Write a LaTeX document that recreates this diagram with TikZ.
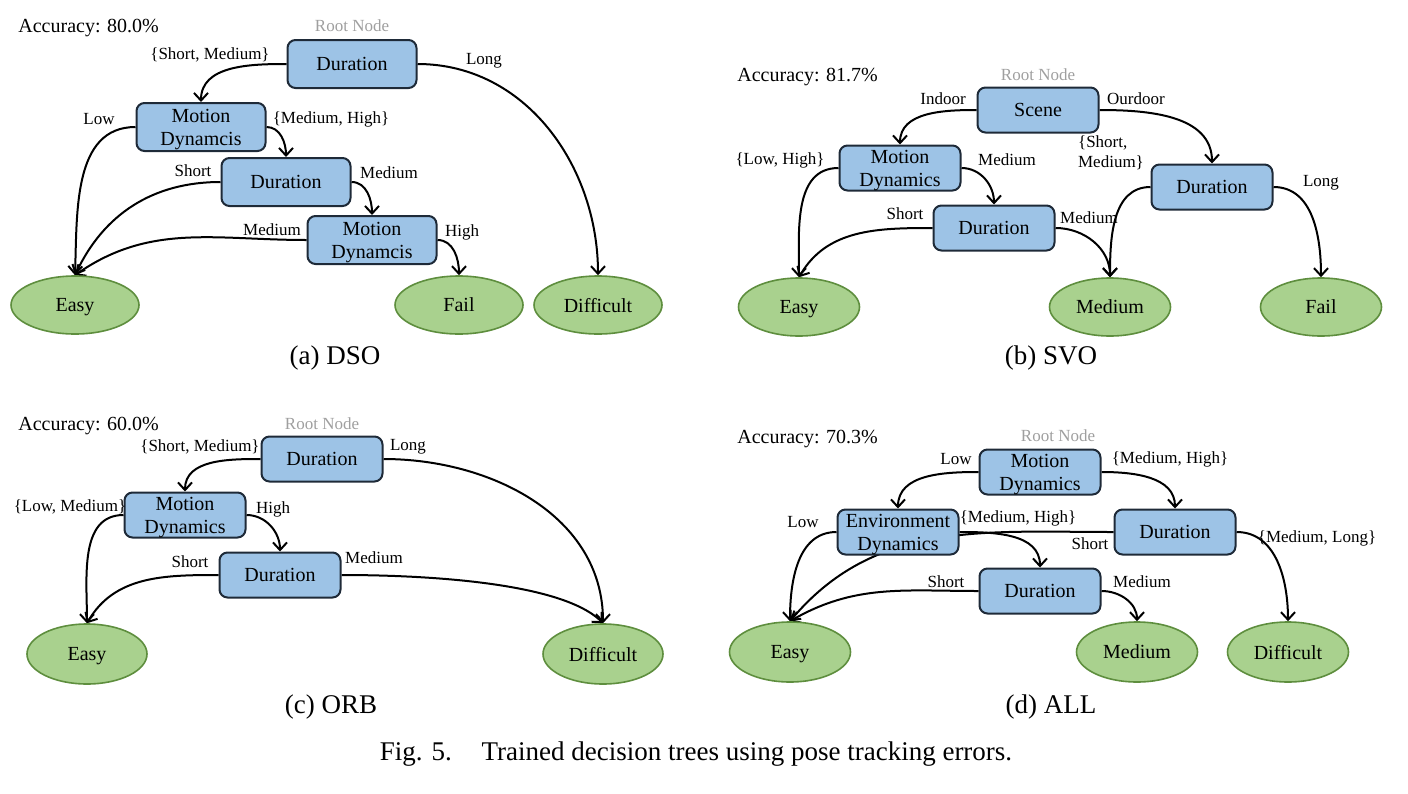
\documentclass[tikz,border=0pt]{standalone}
\usepackage{fontspec}
\setmainfont{Liberation Serif}
\usetikzlibrary{arrows.meta,shapes.geometric,backgrounds}

\definecolor{boxblue}{HTML}{9DC3E6}
\definecolor{boxline}{HTML}{1E2A38}
\definecolor{leafgreen}{HTML}{A9D18E}
\definecolor{leafline}{HTML}{5E8E3E}

\tikzset{
  splitbox/.style={draw=boxline, fill=boxblue, line width=1pt, rounded corners=4pt, align=center, inner sep=1pt,
    text depth=0pt, minimum width=60.5pt, minimum height=22.5pt, font=\fontsize{10}{11.5}\selectfont},
  leafnode/.style={ellipse, draw=leafline, fill=leafgreen, line width=0.8pt, inner sep=0pt, text depth=0pt,
    minimum width=60.5pt, minimum height=29pt, font=\fontsize{10}{12}\selectfont},
  cond/.style={font=\fontsize{8.5}{10}\selectfont, inner sep=0pt, align=left},
  rootlabel/.style={font=\fontsize{8.5}{10}\selectfont, text=gray!75, inner sep=0pt},
  acc/.style={font=\fontsize{10}{12}\selectfont, inner sep=0pt, anchor=west},
  subcap/.style={font=\fontsize{13.5}{16}\selectfont, inner sep=0pt},
  branch/.style={line width=1pt, -{Straight Barb[length=3.8pt,width=7pt,line width=1pt]}},
}

\begin{document}
\begin{tikzpicture}[x=0.5pt, y=-0.5pt]
  \useasboundingbox (0,0) rectangle (1408,793);

  % (a) DSO
  \begin{scope}[splitbox/.append style={minimum width=64.5pt, minimum height=24pt},
                leafnode/.append style={minimum width=64pt}]
    \node[acc] (accA) at (18,28) {Accuracy: 80.0\%};
    \node[rootlabel] (rootA) at (352,26) {Root Node};
    \node[splitbox] (a1) at (352,64) {Duration};
    \node[splitbox] (a2) at (201,127) {Motion\\Dynamcis};
    \node[splitbox] (a3) at (286,182) {Duration};
    \node[splitbox] (a4) at (372,240) {Motion\\Dynamcis};
    \node[leafnode] (aeasy) at (75,305) {Easy};
    \node[leafnode] (afail) at (459,305) {Fail};
    \node[leafnode] (adiff) at (598,305) {Difficult};
  \end{scope}
  \node[cond] (la1) at (210,55) {\{Short, Medium\}};
  \node[cond] (la2) at (484,61) {Long};
  \node[cond] (la3) at (99,119) {Low};
  \node[cond] (la4) at (331,119) {\{Medium, High\}};
  \node[cond] (la5) at (193,171) {Short};
  \node[cond] (la6) at (389,173) {Medium};
  \node[cond] (la7) at (272,230) {Medium};
  \node[cond] (la8) at (462,232) {High};
  \node[subcap] (capA) at (335,358) {(a) DSO};

  % (b) SVO
  \node[acc] (accB) at (737,77) {Accuracy: 81.7\%};
  \node[rootlabel] (rootB) at (1038,75) {Root Node};
  \node[splitbox] (b1) at (1038,110) {Scene};
  \node[splitbox] (b2) at (900,168) {Motion\\Dynamics};
  \node[splitbox] (b3) at (1212,187) {Duration};
  \node[splitbox] (b4) at (994,228) {Duration};
  \node[leafnode] (beasy) at (799,307) {Easy};
  \node[leafnode] (bmed) at (1110,307) {Medium};
  \node[leafnode] (bfail) at (1321,307) {Fail};
  \node[cond] (lb1) at (943,99) {Indoor};
  \node[cond] (lb2) at (1136,99) {Ourdoor};
  \node[cond] (lb3) at (780,160) {\{Low, High\}};
  \node[cond] (lb4) at (1007,160) {Medium};
  \node[cond] (lb5) at (1111,153) {\{Short,\\Medium\}};
  \node[cond] (lb6) at (1321,183) {Long};
  \node[cond] (lb7) at (905,214) {Short};
  \node[cond] (lb8) at (1089,218) {Medium};
  \node[subcap] (capB) at (1051,358) {(b) SVO};

  % (c) ORB
  \begin{scope}[leafnode/.append style={minimum width=60pt, minimum height=30pt}]
    \node[acc] (accC) at (18,426) {Accuracy: 60.0\%};
    \node[rootlabel] (rootC) at (322,424) {Root Node};
    \node[splitbox] (c1) at (322,459) {Duration};
    \node[splitbox] (c2) at (185,515) {Motion\\Dynamics};
    \node[splitbox] (c3) at (280,575) {Duration};
    \node[leafnode] (ceasy) at (87,654) {Easy};
    \node[leafnode] (cdiff) at (603,654) {Difficult};
  \end{scope}
  \node[cond] (lc1) at (200,447) {\{Short, Medium\}};
  \node[cond] (lc2) at (408,447) {Long};
  \node[cond] (lc3) at (70,507) {\{Low, Medium\}};
  \node[cond] (lc4) at (273,509) {High};
  \node[cond] (lc5) at (190,562) {Short};
  \node[cond] (lc6) at (374,558) {Medium};
  \node[subcap] (capC) at (331,707) {(c) ORB};

  % (d) ALL
  \begin{scope}[leafnode/.append style={minimum height=30pt}]
    \node[acc] (accD) at (737,439) {Accuracy: 70.3\%};
    \node[rootlabel] (rootD) at (1058,436) {Root Node};
    \node[splitbox] (d1) at (1040,472) {Motion\\Dynamics};
    \node[splitbox] (d2) at (898,532) {Environment\\Dynamics};
    \node[splitbox] (d3) at (1175,532) {Duration};
    \node[splitbox] (d4) at (1040,591) {Duration};
    \node[leafnode] (deasy) at (790,652) {Easy};
    \node[leafnode] (dmed) at (1137,652) {Medium};
    \node[leafnode] (ddiff) at (1288,652) {Difficult};
  \end{scope}
  \node[cond] (ld1) at (956,459) {Low};
  \node[cond] (ld2) at (1170,459) {\{Medium, High\}};
  \node[cond] (ld3) at (803,522) {Low};
  \node[cond] (ld4) at (1018,518) {\{Medium, High\}};
  \node[cond] (ld5) at (1090,544) {Short};
  \node[cond] (ld6) at (1317,538) {\{Medium, Long\}};
  \node[cond] (ld7) at (946,582) {Short};
  \node[cond] (ld8) at (1142,582) {Medium};
  \node[subcap] (capD) at (1051,707) {(d) ALL};

  % figure caption
  \node[subcap] (fig) at (696,754) {Fig. 5.\hspace{1.1em}Trained decision trees using pose tracking errors.};

  % branches
  \begin{scope}[on background layer]
    \draw[branch] (a1.west) to[out=180, in=90] (a2.north);
    \draw[branch] (a1.east) to[out=0, in=90] (adiff.north);
    \draw[branch] (a2.west) to[out=180, in=88] (aeasy.north);
    \draw[branch] (a2.east) to[out=0, in=90] (a3.north);
    \draw[branch] (a3.west) to[out=180, in=65] (aeasy.north);
    \draw[branch] (a3.east) to[out=0, in=90] (a4.north);
    \draw[branch] (a4.west) to[out=180, in=35] (aeasy.north);
    \draw[branch] (a4.east) to[out=0, in=90] (afail.north);

    \draw[branch] (b1.west) to[out=180, in=90] (b2.north);
    \draw[branch] (b1.east) to[out=0, in=90] (b3.north);
    \draw[branch] (b2.west) to[out=180, in=90] (beasy.north);
    \draw[branch] (b2.east) to[out=0, in=90] (b4.north);
    \draw[branch] (b4.west) to[out=180, in=60] (beasy.north);
    \draw[branch] (b4.east) to[out=0, in=90] (bmed.north);
    \draw[branch] (b3.west) to[out=180, in=90] (bmed.north);
    \draw[branch] (b3.east) to[out=0, in=90] (bfail.north);

    \draw[branch] (c1.west) to[out=180, in=90] (c2.north);
    \draw[branch] (c1.east) to[out=0, in=90] (cdiff.north);
    \draw[branch] (c2.west) to[out=180, in=90] (ceasy.north);
    \draw[branch] (c2.east) to[out=0, in=90] (c3.north);
    \draw[branch] (c3.west) to[out=180, in=60] (ceasy.north);
    \draw[branch] (c3.east) to[out=0, in=135, looseness=0.6] (cdiff.north);

    \draw[branch] (d1.west) to[out=180, in=90] (d2.north);
    \draw[branch] (d1.east) to[out=0, in=90] (d3.north);
    \draw[branch] (d2.west) to[out=180, in=90] (deasy.north);
    \draw[branch] (d2.east) to[out=0, in=90] (d4.north);
    \draw[branch] (d3.west) to[out=180, in=50] (deasy.north);
    \draw[branch] (d3.east) to[out=0, in=90] (ddiff.north);
    \draw[branch] (d4.west) to[out=180, in=30] (deasy.north);
    \draw[branch] (d4.east) to[out=0, in=90] (dmed.north);
  \end{scope}
\end{tikzpicture}
\end{document}
